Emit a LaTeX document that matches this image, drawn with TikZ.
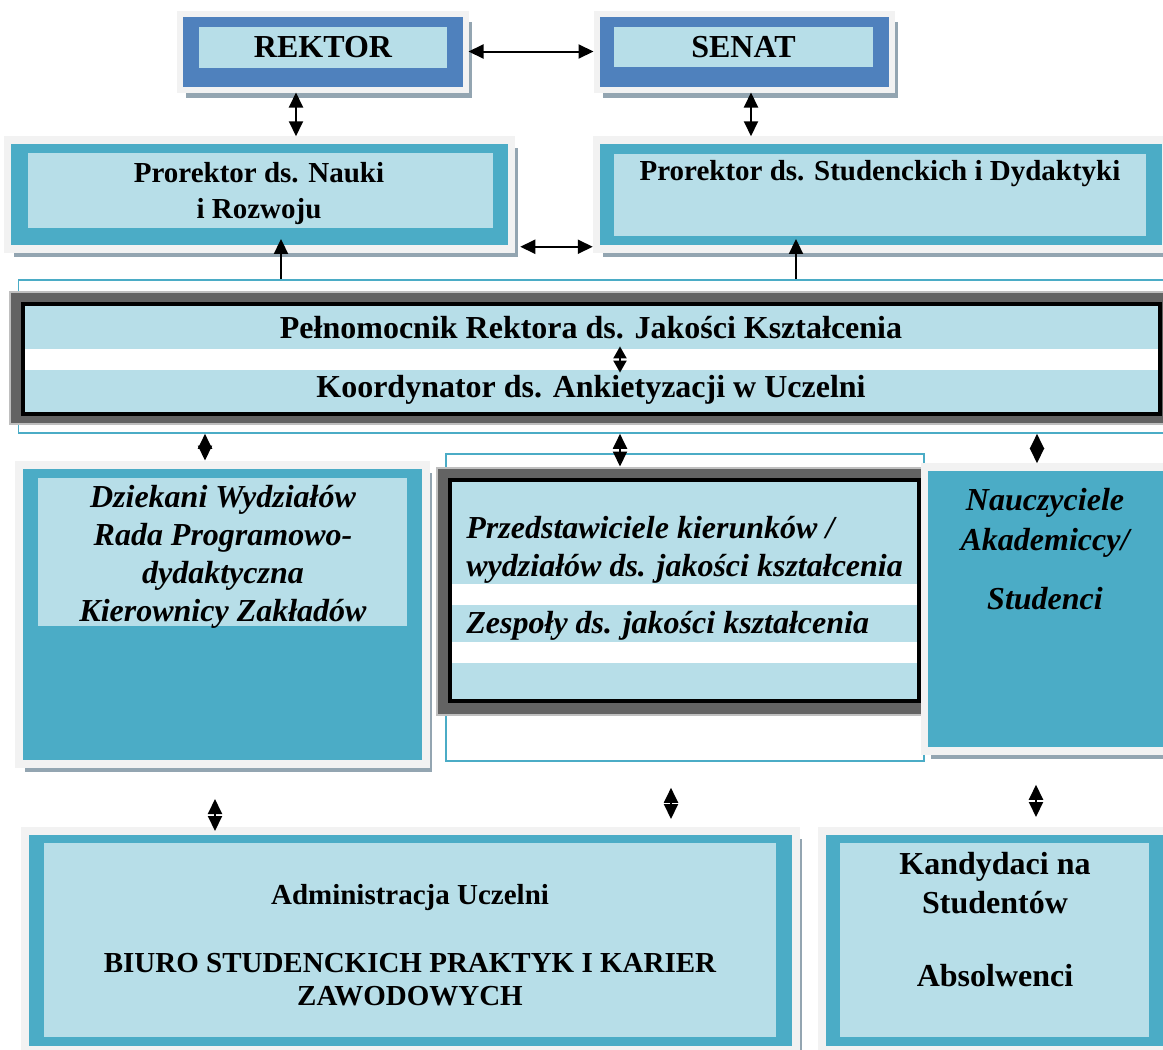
\documentclass[tikz,border=0pt]{standalone}
\usepackage{fontspec}
\setmainfont{Liberation Serif}
\usetikzlibrary{arrows.meta,positioning,fit,shadows}
\definecolor{navy}{HTML}{4F81BD}
\definecolor{sea}{HTML}{4BACC6}
\definecolor{pale}{HTML}{B7DEE8}
\definecolor{paper}{HTML}{F2F2F2}
\definecolor{shade}{HTML}{93A5B1}
\definecolor{ash}{HTML}{BFBFBF}
\definecolor{slate}{HTML}{636363}
\tikzset{
  flowboth/.style={{Triangle[length=7.5pt,width=7pt]}-{Triangle[length=7.5pt,width=7pt]},line width=1pt},
  flow/.style={-{Triangle[length=7.5pt,width=7pt]},line width=1pt},
  panel/.style={draw=paper,line width=3.5pt,inner sep=0pt,
    drop shadow={shadow xshift=3pt,shadow yshift=-4pt,fill=shade,opacity=1}},
  inbox/.style={fill=pale,inner sep=0pt},
  band/.style={fill=pale,inner sep=0pt},
  outline/.style={draw=sea,line width=0.8pt,inner sep=0pt},
  greyframe/.style={fill=slate,draw=ash,line width=1pt,inner sep=0pt},
  blackframe/.style={draw=black,fill=white,line width=2pt,inner sep=0pt},
  head/.style={font=\fontsize{16}{19}\selectfont\bfseries,align=center,inner sep=0pt},
  sub/.style={font=\fontsize{14.5}{18}\selectfont\bfseries,align=center,inner sep=0pt},
  ital/.style={font=\fontsize{16}{19}\selectfont\bfseries\itshape,align=center,inner sep=0pt}
}
\begin{document}
\begin{tikzpicture}[x=0.5pt,y=-0.5pt]
\useasboundingbox (0,0) rectangle (1163,1050);

% rektor / senat
\node[panel,line width=3pt,fill=navy,fit={(180,13.5)(465.5,89.5)}] (rektorpanel) {};
\node[inbox,fit={(199,27)(447,68)}] (rektor) {};
\node[head] (rektortxt) at (rektor) {REKTOR};
\node[panel,line width=3pt,fill=navy,fit={(596.5,13.5)(892,89.5)}] (senatpanel) {};
\node[inbox,fit={(614,27)(873,67)}] (senat) {};
\node[head] (senattxt) at (senat) {SENAT};

% prorektorzy
\node[panel,line width=3.75pt,fill=sea,fit={(7.5,140)(511.5,249)}] (naukipanel) {};
\node[inbox,fit={(28,153)(493,228)}] (nauki) {};
\node[sub] (naukitxt) at (259,194) {Prorektor ds. Nauki\\i Rozwoju};
\node[panel,line width=3.75pt,fill=sea,fit={(596.5,140)(1166,249)}] (studpanel) {};
\node[inbox,fit={(614,154)(1146,236)}] (stud) {};
\node[sub] (studtxt) at (880,174) {Prorektor ds. Studenckich i Dydaktyki};

\draw[flowboth] (rektorpanel) -- (senatpanel);
\draw[flowboth] (296,0 |- rektorpanel.south) -- (296,0 |- naukipanel.north);
\draw[flowboth] (751,0 |- senatpanel.south) -- (751,0 |- studpanel.north);
\draw[flowboth] ([xshift=2.5pt,yshift=3pt]naukipanel.south east) -- ([yshift=3pt]studpanel.south west);

% pelnomocnik
\node[outline,fit={(18.5,280)(1180,433)}] (qframe) {};
\draw[flow,shorten >=-6.9pt] (281,0 |- qframe.north) -- (281,0 |- naukipanel.south);
\draw[flow,shorten >=-6.9pt] (796,0 |- qframe.north) -- (796,0 |- studpanel.south);
\node[greyframe,fit={(10,291.5)(1180,423.5)}] (pelnframe) {};
\node[blackframe,fit={(23,304)(1160,414)}] (pelnbox) {};
\node[band,fit={(25,306)(1158,349)}] (pelnomocnik) {};
\node[head] (pelntxt) at (591,328) {Pełnomocnik Rektora ds. Jakości Kształcenia};
\node[band,fit={(25,370)(1158,412)}] (koordynator) {};
\node[head] (koordtxt) at (591,390) {Koordynator ds. Ankietyzacji w Uczelni};
\draw[{Triangle[length=6pt,width=6.5pt]}-{Triangle[length=6pt,width=6.5pt]},line width=1pt,shorten <=-1.5pt,shorten >=-1.5pt]
  (620,0 |- pelnomocnik.south) -- (620,0 |- koordynator.north);

% dziekani
\node[panel,line width=4pt,fill=sea,fit={(19,464.5)(426,764)}] (dziekpanel) {};
\node[inbox,fit={(38,478)(407,626)}] (dziek) {};
\node[ital] (dziektxt) at (223,557) {Dziekani Wydziałów\\Rada Programowo-\\dydaktyczna\\Kierownicy Zakładów};

% zespoly
\node[outline,fit={(446,454)(924,761)}] (qteam) {};
\node[greyframe,fit={(437,467.5)(930,714.5)}] (teamframe) {};
\node[blackframe,fit={(450,480)(919,701)}] (teambox) {};
\node[band,fit={(452,482)(917,584)}] (przed) {};
\node[band,fit={(452,605)(917,642)}] (zesp) {};
\node[band,fit={(452,663)(917,699)}] (teamrest) {};
\node[ital,align=left,anchor=west] (przedtxt) at (466,550) {Przedstawiciele kierunków /\\wydziałów ds. jakości kształcenia};
\node[ital,anchor=west] (zesptxt) at (466,626) {Zespoły ds. jakości kształcenia};

% nauczyciele
\node[panel,line width=3.75pt,fill=sea,fit={(924.5,467)(1172,751)}] (nauczpanel) {};
\node[ital,anchor=north] (naucztxt) at (1045,488) {Nauczyciele\\[1pt]Akademiccy/\\[10.5pt]Studenci};

\draw[flowboth] (205,0 |- qframe.south) -- (205,0 |- dziekpanel.north);
\draw[flowboth] (620,0 |- qframe.south) -- (620,0 |- teamframe.north);
\draw[flowboth] (1037,0 |- qframe.south) -- (1037,0 |- nauczpanel.north);

% administracja / kandydaci
\node[panel,line width=4pt,fill=sea,fit={(25,831)(796,1050)}] (adminpanel) {};
\node[inbox,fit={(44,843)(776,1037)}] (admin) {};
\node[sub,font=\fontsize{14.5}{16.5}\selectfont\bfseries] (admintxt) at (410,945) {Administracja Uczelni\\[17.5pt]BIURO STUDENCKICH PRAKTYK I KARIER\\ZAWODOWYCH};
\node[panel,line width=4pt,fill=sea,fit={(822,831)(1170,1050)}] (kandpanel) {};
\node[inbox,fit={(840,843)(1149,1037)}] (kand) {};
\node[head,anchor=north,font=\fontsize{16}{19.5}\selectfont\bfseries] (kandtxt) at (995,852) {Kandydaci na\\Studentów\\[17pt]Absolwenci};

\draw[flowboth,shorten <=15.5pt,shorten >=-2pt] (215,0 |- dziekpanel.south) -- (215,0 |- adminpanel.north);
\draw[flowboth,shorten <=13pt,shorten >=4pt] (671,0 |- qteam.south) -- (671,0 |- adminpanel.north);
\draw[flowboth,shorten <=15pt,shorten >=5pt] (1036,0 |- nauczpanel.south) -- (1036,0 |- kandpanel.north);
\end{tikzpicture}
\end{document}
